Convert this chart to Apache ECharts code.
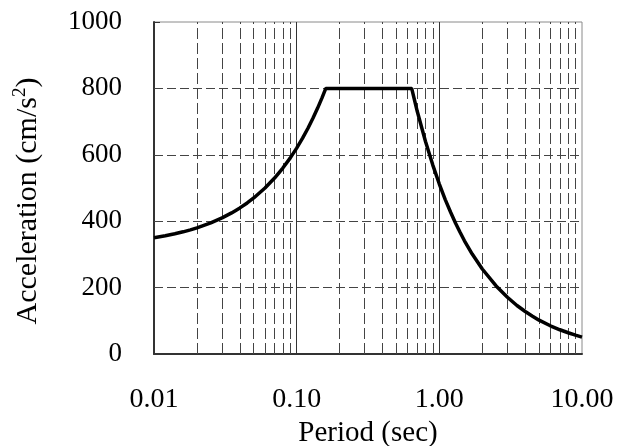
<!DOCTYPE html>
<html>
<head>
<meta charset="utf-8">
<script src="https://cdn.jsdelivr.net/npm/echarts@6/dist/echarts.min.js"></script>
<style>html,body{margin:0;padding:0;background:#fff;}#c{width:619px;height:446px;}</style>
</head>
<body>
<div id="c"></div>
<script>
// Data
var periods = [0.01, 0.012, 0.014, 0.016, 0.018, 0.02, 0.025, 0.03, 0.035, 0.04, 0.045, 0.05, 0.06, 0.07, 0.08, 0.09, 0.10, 0.11, 0.12, 0.13, 0.14, 0.15, 0.16,
               0.2, 0.3, 0.4, 0.5, 0.64, 0.7, 0.8, 0.9, 1.0, 1.1, 1.2, 1.3, 1.4, 1.5, 1.7, 2.0, 2.5, 3.0, 3.5,
               4.0, 4.5, 5.0, 6.0, 7.0, 8.0, 9.0, 10.0];
var accel   = [350, 356, 362, 368, 374, 380, 395, 410, 425, 440, 455, 470, 500, 530, 560, 590, 620, 650, 680, 710, 740, 770, 800,
               800, 800, 800, 800, 800, 731, 640, 569, 512, 465, 427, 394, 366, 341, 301, 256, 205, 171, 146,
               128, 114, 102, 85, 73, 64, 57, 51];
var yGridValues = [200, 400, 600, 800];
var majorXGrid = [0.1, 1];
var minorXGrid = [0.02, 0.03, 0.04, 0.05, 0.06, 0.07, 0.08, 0.09,
                  0.2, 0.3, 0.4, 0.5, 0.6, 0.7, 0.8, 0.9,
                  2, 3, 4, 5, 6, 7, 8, 9];
var xTickLabels = ['0.01', '0.10', '1.00', '10.00'];
var xTitle = 'Period (sec)';
var yTitle = '{a|Acceleration (cm/s}{s|2}{a|)}';

var font = 'Liberation Serif, Times New Roman, serif';
var chart = echarts.init(document.getElementById('c'), null, {renderer: 'canvas'});

function vLines(vals) {
  return vals.map(function (v) { return {xAxis: v}; });
}

var option = {
  animation: false,
  backgroundColor: '#fff',
  grid: {left: 154, right: 37, top: 22, bottom: 92, show: true, borderColor: '#8a8a8a', borderWidth: 1, backgroundColor: 'transparent'},
  xAxis: {
    type: 'log', logBase: 10, min: 0.01, max: 10, interval: 1,
    axisLine: {show: true, onZero: false, lineStyle: {color: '#333', width: 2}},
    axisTick: {show: false},
    splitLine: {show: false},
    minorTick: {show: false},
    axisLabel: {
      fontFamily: font, fontSize: 28, color: '#000', margin: 32,
      formatter: function (v) {
        var idx = Math.round(Math.log10(v)) + 2;
        return xTickLabels[idx] !== undefined ? xTickLabels[idx] : v.toFixed(2);
      }
    }
  },
  yAxis: {
    type: 'value', min: 0, max: 1000, interval: 200,
    axisLine: {show: true, lineStyle: {color: '#333', width: 2}},
    axisTick: {show: true, inside: true, length: 6, lineStyle: {color: '#333', width: 1}},
    splitLine: {show: false},
    axisLabel: {fontFamily: font, fontSize: 27, color: '#000', margin: 32, padding: [6, 0, 0, 0],
      formatter: function (v) { return String(v); }}
  },
  graphic: [
    {type: 'text', x: 368, y: 433, style: {text: xTitle, font: '29px ' + font, fill: '#000', align: 'center', verticalAlign: 'middle'}},
    {type: 'text', x: 28, y: 201, rotation: Math.PI / 2,
     style: {text: yTitle, fill: '#000', align: 'center', verticalAlign: 'middle',
       rich: {
         a: {fontFamily: font, fontSize: 30, lineHeight: 34, fill: '#000'},
         s: {fontFamily: font, fontSize: 19, lineHeight: 34, verticalAlign: 'top', fill: '#000'}
       }}}
  ],
  series: [
    {
      type: 'line', data: [], silent: true,
      markLine: {silent: true, symbol: ['none', 'none'], label: {show: false}, animation: false,
        lineStyle: {color: '#444', width: 1, type: [11, 4]},
        data: vLines(minorXGrid)}
    },
    {
      type: 'line', data: [], silent: true,
      markLine: {silent: true, symbol: ['none', 'none'], label: {show: false}, animation: false,
        lineStyle: {color: '#333', width: 1, type: 'solid'},
        data: vLines(majorXGrid)}
    },
    {
      type: 'line', data: [], silent: true,
      markLine: {silent: true, symbol: ['none', 'none'], label: {show: false}, animation: false,
        lineStyle: {color: '#444', width: 1, type: [9, 4]},
        data: yGridValues.map(function (v) { return {yAxis: v}; })}
    },
    {
      type: 'line', z: 5,
      data: periods.map(function (t, i) { return [t, accel[i]]; }),
      showSymbol: false, symbol: 'none', smooth: false,
      lineStyle: {color: '#000', width: 3.5}
    }
  ]
};
chart.setOption(option);
</script>
</body>
</html>
